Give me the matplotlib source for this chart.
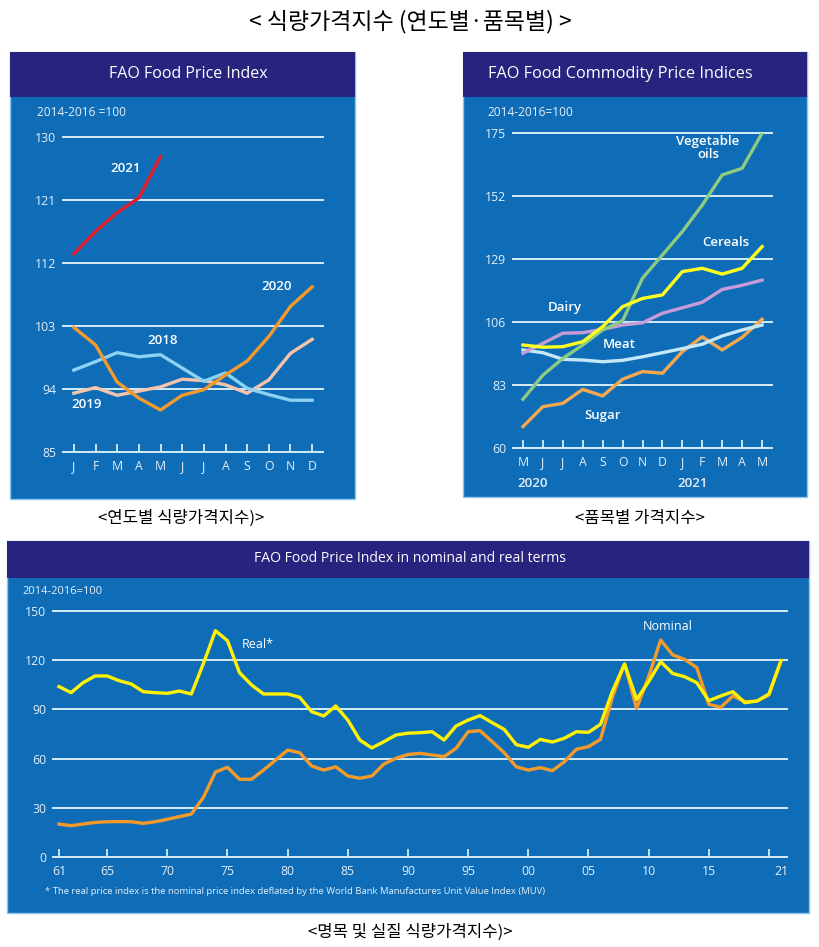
"""식량가격지수 (연도별·품목별) — FAO 지수 3개 패널 재현."""
import numpy as np
import matplotlib
matplotlib.use("Agg")
import matplotlib.pyplot as plt
from matplotlib.patches import Rectangle

plt.rcParams["font.family"] = ["Open Sans", "Noto Sans CJK KR", "DejaVu Sans"]
KR = ["Noto Sans CJK KR", "DejaVu Sans"]

# --- data -----------------------------------------------------------------
MONTHS = ["J", "F", "M", "A", "M", "J", "J", "A", "S", "O", "N", "D"]
FPI_2021 = [113.3, 116.5, 119.2, 121.3, 127.2]
FPI_2020 = [102.8, 100.3, 95.0, 92.7, 91.0, 93.1, 93.9, 96.0, 98.0, 101.5, 105.8, 108.6]
FPI_2019 = [93.4, 94.2, 93.1, 93.7, 94.3, 95.4, 95.2, 94.6, 93.4, 95.3, 99.1, 101.1]
FPI_2018 = [96.7, 97.9, 99.2, 98.6, 98.9, 97.0, 95.1, 96.3, 94.1, 93.2, 92.4, 92.4]
FPI_YTICKS = [85, 94, 103, 112, 121, 130]

COMM_MONTHS = ["M", "J", "J", "A", "S", "O", "N", "D", "J", "F", "M", "A", "M"]
VEG_OILS = [77.8, 86.6, 92.7, 97.6, 103.1, 106.5, 122.0, 130.5, 139.0, 148.7, 159.7, 162.1, 174.9]
CEREALS = [97.6, 96.8, 97.0, 98.8, 104.3, 111.6, 114.6, 115.9, 124.4, 125.6, 123.5, 125.6, 133.5]
DAIRY = [94.6, 98.2, 101.9, 102.1, 103.3, 104.9, 105.7, 109.2, 111.2, 113.2, 117.9, 119.4, 121.3]
MEAT = [95.8, 94.8, 92.4, 92.1, 91.5, 92.0, 93.3, 94.8, 96.3, 97.9, 100.9, 103.1, 104.9]
SUGAR = [67.8, 75.1, 76.3, 81.4, 79.0, 85.1, 87.9, 87.3, 95.2, 100.6, 95.8, 100.4, 107.0]
COMM_YTICKS = [60, 83, 106, 129, 152, 175]

YEARS = list(range(1961, 2022))
REAL = [103.9, 100.2, 106.3, 110.4, 110.4, 107.5, 105.5, 100.8, 100.2, 99.8,
        101.2, 99.4, 118.0, 138.0, 131.9, 112.4, 104.9, 99.4, 99.4, 99.4,
        97.4, 88.6, 86.0, 92.1, 83.5, 71.3, 66.5, 70.3, 74.4, 75.5,
        75.8, 76.4, 71.3, 79.9, 83.5, 86.2, 81.9, 77.8, 68.5, 66.9,
        71.7, 70.1, 72.4, 76.4, 76.0, 80.9, 101.2, 117.7, 96.1, 106.9,
        119.1, 111.9, 109.9, 106.3, 95.3, 98.2, 100.8, 94.1, 95.1, 99.4,
        119.7]
NOMINAL = [20.1, 19.1, 20.1, 21.1, 21.5, 21.6, 21.5, 20.5, 21.5, 23.0,
           24.6, 26.2, 36.4, 51.8, 54.7, 47.4, 47.4, 53.0, 59.1, 65.2,
           63.6, 55.5, 53.0, 55.0, 49.4, 48.0, 49.4, 56.7, 60.2, 62.5,
           63.2, 62.2, 61.2, 66.3, 76.4, 77.0, 70.3, 63.6, 55.0, 53.0,
           54.5, 52.6, 58.1, 65.7, 67.3, 71.7, 97.8, 117.7, 90.6, 109.9,
           132.3, 123.2, 120.5, 115.5, 93.1, 91.3, 98.2, 94.7, 95.0, 98.8,
           119.7]
LONG_YTICKS = [0, 30, 60, 90, 120, 150]
LONG_XTICKS = [1961, 1965, 1970, 1975, 1980, 1985, 1990, 1995, 2000, 2005, 2010, 2015, 2020]
LONG_XLABELS = ["61", "65", "70", "75", "80", "85", "90", "95", "00", "05", "10", "15", ""]

# --- style ----------------------------------------------------------------
W, H = 819, 947
BLUE = "#0F6DB8"
NAVY = "#27237F"
GRID = "#D3ECF9"
TXT = "#E4EFF8"
LW = 2.4
TICK_FS = 8.8

fig = plt.figure(figsize=(W / 100, H / 100), dpi=100)


def px(x, y):
    return x / W, 1 - y / H


def rect(x0, y0, x1, y1):
    return [x0 / W, 1 - y1 / H, (x1 - x0) / W, (y1 - y0) / H]


def box(x0, y0, x1, y1, hy):
    # 패널 배경(파랑) + 제목 띠(남색) — 축보다 아래에 그림
    fig.add_artist(Rectangle(px(x0, y1), (x1 - x0) / W, (y1 - y0) / H,
                             transform=fig.transFigure, fc=BLUE, ec="#8CC8EE",
                             lw=1, zorder=-10))
    fig.add_artist(Rectangle(px(x0, hy), (x1 - x0) / W, (hy - y0) / H,
                             transform=fig.transFigure, fc=NAVY, ec="none",
                             zorder=-9))


def ftext(x, y, s, **kw):
    kw.setdefault("color", "white")
    fig.text(*px(x, y), s, **kw)


def setup(ax, yticks, xpos, xlabels):
    ax.patch.set_alpha(0)
    for sp in ax.spines.values():
        sp.set_visible(False)
    for v in yticks:
        ax.axhline(v, color=GRID, lw=1.4, zorder=1, clip_on=False)
    ax.set_yticks(yticks)
    ax.set_xticks(xpos)
    ax.set_xticklabels(xlabels)
    ax.tick_params(axis="y", length=0, pad=5, labelcolor=TXT, labelsize=TICK_FS)
    ax.tick_params(axis="x", direction="in", length=6, width=1.3, color=GRID,
                   pad=6, labelcolor=TXT, labelsize=TICK_FS)


# --- panel 1: FAO Food Price Index ---------------------------------------
box(10, 52, 355, 499, 97)
ftext(188, 74, "FAO Food Price Index", fontsize=11.5, ha="center", va="center")
ftext(37, 112, "2014-2016 =100", fontsize=8.6, va="center", color=TXT)
ax1 = fig.add_axes(rect(63, 137, 323, 452))
ax1.set_xlim(-0.5, 11.5)
ax1.set_ylim(85, 130)
setup(ax1, FPI_YTICKS, range(12), MONTHS)
m = np.arange(12)
ax1.plot(m, FPI_2019, color="#F6C4AA", lw=LW, zorder=3)
ax1.plot(m, FPI_2018, color="#8CD2F2", lw=LW, zorder=4)
ax1.plot(m, FPI_2020, color="#F39A2B", lw=LW, zorder=5)
ax1.plot(m[:5], FPI_2021, color="#E31E2A", lw=LW, zorder=5)
for lab, x, y in [("2021", 126, 168), ("2020", 277, 287), ("2018", 163, 341), ("2019", 87, 405)]:
    ftext(x, y, lab, fontsize=9.5, fontweight="semibold", ha="center", va="center")

# --- panel 2: FAO Food Commodity Price Indices --------------------------
box(463, 52, 807, 497, 97)
ftext(488, 74, "FAO Food Commodity Price Indices", fontsize=11.7, va="center")
ftext(487, 112, "2014-2016=100", fontsize=8.6, va="center", color=TXT)
ax2 = fig.add_axes(rect(513, 133, 772, 448))
ax2.set_xlim(-0.5, 12.5)
ax2.set_ylim(60, 175)
setup(ax2, COMM_YTICKS, range(13), COMM_MONTHS)
c = np.arange(13)
ax2.plot(c, SUGAR, color="#F6A84E", lw=LW, zorder=3)
ax2.plot(c, MEAT, color="#C4E8F7", lw=LW, zorder=3)
ax2.plot(c, DAIRY, color="#C79BD7", lw=LW, zorder=3)
ax2.plot(c, VEG_OILS, color="#8DCB80", lw=LW, zorder=4)
ax2.plot(c, CEREALS, color="#FFFF1E", lw=LW, zorder=5)
for lab, x, y in [("Vegetable\noils", 708, 148), ("Cereals", 726, 242), ("Dairy", 565, 307),
                  ("Meat", 619, 345), ("Sugar", 603, 415)]:
    ftext(x, y, lab, fontsize=9.5, fontweight="semibold", ha="center", va="center",
          linespacing=0.9)
ftext(533, 483, "2020", fontsize=9.5, fontweight="semibold", ha="center", va="center", color=TXT)
ftext(693, 483, "2021", fontsize=9.5, fontweight="semibold", ha="center", va="center", color=TXT)

# --- panel 3: nominal and real terms -------------------------------------
box(7, 541, 809, 913, 578)
ftext(410, 559, "FAO Food Price Index in nominal and real terms", fontsize=10.1,
      ha="center", va="center")
ftext(22, 591, "2014-2016=100", fontsize=8, va="center", color=TXT)
ax3 = fig.add_axes(rect(53, 611, 787, 857))
ax3.set_xlim(1960.5, 2021.5)
ax3.set_ylim(0, 150)
setup(ax3, LONG_YTICKS, LONG_XTICKS, LONG_XLABELS)
ax3.set_xticks([2021], ["21"], minor=True)
ax3.tick_params(axis="x", which="minor", direction="in", length=0, pad=6,
                labelcolor=TXT, labelsize=TICK_FS)
ax3.plot(YEARS, NOMINAL, color="#F39A2B", lw=LW, zorder=3)
ax3.plot(YEARS, REAL, color="#FFF200", lw=LW, zorder=4)
ftext(258, 645, "Real*", fontsize=9, ha="center", va="center")
ftext(668, 626, "Nominal", fontsize=9, ha="center", va="center")
ftext(45, 891, "* The real price index is the nominal price index deflated by the "
      "World Bank Manufactures Unit Value Index (MUV)", fontsize=6.8, va="center", color=TXT)

# --- Korean titles / captions -------------------------------------------
ftext(410, 22, "< 식량가격지수 (연도별·품목별) >", family=KR, fontsize=16.5,
      fontweight="medium", ha="center", va="center", color="black")
ftext(181, 518, "<연도별 식량가격지수)>", family=KR, fontsize=12, ha="center",
      va="center", color="black")
ftext(640, 518, "<품목별 가격지수>", family=KR, fontsize=12, ha="center",
      va="center", color="black")
ftext(410, 932, "<명목 및 실질 식량가격지수)>", family=KR, fontsize=12, ha="center",
      va="center", color="black")

fig.savefig("out.png", dpi=100, facecolor="white")
